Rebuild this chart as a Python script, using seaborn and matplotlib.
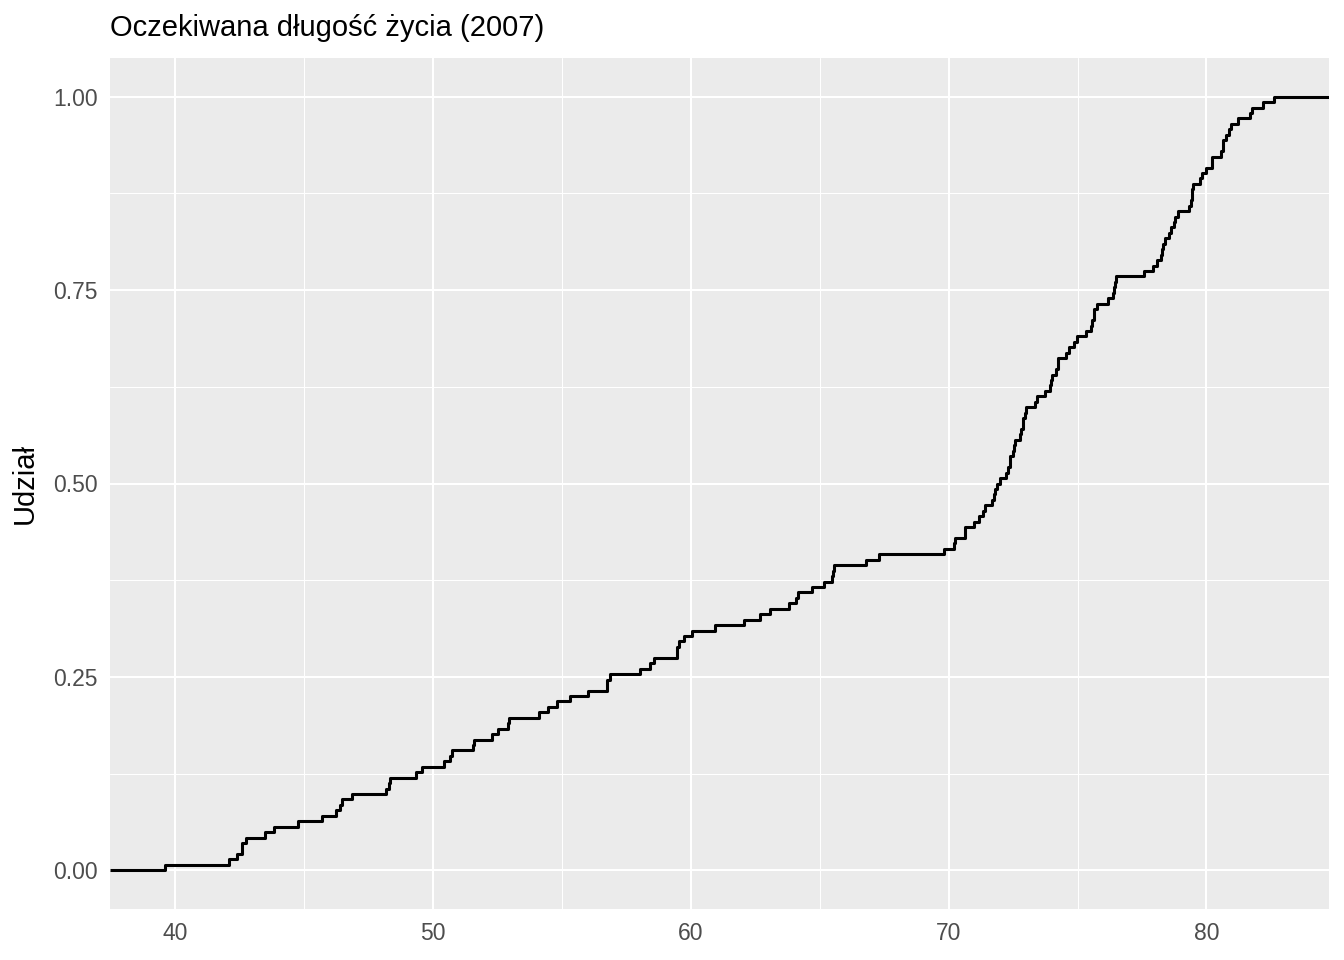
import matplotlib
matplotlib.use("Agg")
import matplotlib.pyplot as plt
import numpy as np
import seaborn as sns
from matplotlib.ticker import MultipleLocator

# gapminder, rok 2007: oczekiwana długość życia (142 kraje)
countries = [
    "Afghanistan", "Albania", "Algeria", "Angola", "Argentina", "Australia", "Austria", "Bahrain",
    "Bangladesh", "Belgium", "Benin", "Bolivia", "Bosnia and Herzegovina", "Botswana", "Brazil",
    "Bulgaria", "Burkina Faso", "Burundi", "Cambodia", "Cameroon", "Canada", "Central African Republic",
    "Chad", "Chile", "China", "Colombia", "Comoros", "Congo, Dem. Rep.", "Congo, Rep.", "Costa Rica",
    "Cote d'Ivoire", "Croatia", "Cuba", "Czech Republic", "Denmark", "Djibouti", "Dominican Republic",
    "Ecuador", "Egypt", "El Salvador", "Equatorial Guinea", "Eritrea", "Ethiopia", "Finland", "France",
    "Gabon", "Gambia", "Germany", "Ghana", "Greece", "Guatemala", "Guinea", "Guinea-Bissau", "Haiti",
    "Honduras", "Hong Kong", "Hungary", "Iceland", "India", "Indonesia", "Iran", "Iraq", "Ireland",
    "Israel", "Italy", "Jamaica", "Japan", "Jordan", "Kenya", "Korea, Dem. Rep.", "Korea, Rep.",
    "Kuwait", "Lebanon", "Lesotho", "Liberia", "Libya", "Madagascar", "Malawi", "Malaysia", "Mali",
    "Mauritania", "Mauritius", "Mexico", "Mongolia", "Montenegro", "Morocco", "Mozambique", "Myanmar",
    "Namibia", "Nepal", "Netherlands", "New Zealand", "Nicaragua", "Niger", "Nigeria", "Norway", "Oman",
    "Pakistan", "Panama", "Paraguay", "Peru", "Philippines", "Poland", "Portugal", "Puerto Rico",
    "Reunion", "Romania", "Rwanda", "Sao Tome and Principe", "Saudi Arabia", "Senegal", "Serbia",
    "Sierra Leone", "Singapore", "Slovak Republic", "Slovenia", "Somalia", "South Africa", "Spain",
    "Sri Lanka", "Sudan", "Swaziland", "Sweden", "Switzerland", "Syria", "Taiwan", "Tanzania",
    "Thailand", "Togo", "Trinidad and Tobago", "Tunisia", "Turkey", "Uganda", "United Kingdom",
    "United States", "Uruguay", "Venezuela", "Vietnam", "West Bank and Gaza", "Yemen, Rep.", "Zambia",
    "Zimbabwe",
]
life_exp = [
    43.828, 76.423, 72.301, 42.731, 75.320, 81.235, 79.829, 75.635,
    64.062, 79.441, 56.728, 65.554, 74.852, 50.728, 72.390,
    73.005, 52.295, 49.580, 59.723, 50.430, 80.653, 44.741,
    50.651, 78.553, 72.961, 72.889, 65.152, 46.462, 55.322, 78.782,
    48.328, 75.748, 78.273, 76.486, 78.332, 54.791, 72.235,
    74.994, 71.338, 71.878, 51.579, 58.040, 52.947, 79.313, 80.657,
    56.735, 59.448, 79.406, 60.022, 79.483, 70.259, 56.007, 46.388, 60.916,
    70.198, 82.208, 73.338, 81.757, 64.698, 70.650, 70.964, 59.545, 78.885,
    80.745, 80.546, 72.567, 82.603, 72.535, 54.110, 67.297, 78.623,
    77.588, 71.993, 42.592, 45.678, 73.952, 59.443, 48.303, 74.241, 54.467,
    64.164, 72.801, 76.195, 66.803, 74.543, 71.164, 42.082, 62.069,
    52.906, 63.785, 79.762, 80.204, 72.899, 56.867, 46.859, 80.196, 75.640,
    65.483, 75.537, 71.752, 71.421, 71.688, 75.563, 78.098, 78.746,
    76.442, 72.476, 46.242, 65.528, 72.777, 63.062, 74.002,
    42.568, 79.972, 74.663, 77.926, 48.159, 49.339, 80.941,
    72.396, 58.556, 39.613, 80.884, 81.701, 74.143, 78.400, 52.517,
    70.616, 58.420, 69.819, 73.923, 71.777, 51.542, 79.425,
    78.242, 76.384, 73.747, 74.249, 73.422, 62.698, 42.384,
    43.487,
]

x_ticks = [40, 50, 60, 70, 80]
y_ticks = [0.00, 0.25, 0.50, 0.75, 1.00]

sns.set_theme(style="darkgrid")
plt.rcParams["font.family"] = ["Liberation Sans", "DejaVu Sans"]

fig = plt.figure(figsize=(13.44, 9.6), dpi=100)
ax = fig.add_axes([110 / 1344, 1 - 909 / 960, 1219 / 1344, 851 / 960])
ax.set_facecolor("#EBEBEB")

sns.ecdfplot(x=life_exp, color="black", linewidth=2.2, ax=ax)

# zakres jak w ggplot (rozszerzenie o 5%)
lo, hi = min(life_exp), max(life_exp)
pad = (hi - lo) * 0.05
ax.set_xlim(lo - pad, hi + pad)
ax.set_ylim(-0.05, 1.05)

# stat_ecdf(pad = TRUE) - linia do krawędzi panelu
ax.plot([lo - pad, lo], [0, 0], color="black", linewidth=2.2, solid_capstyle="butt")
ax.plot([hi, hi + pad], [1, 1], color="black", linewidth=2.2, solid_capstyle="butt")

ax.set_xticks(x_ticks)
ax.set_yticks(y_ticks)
ax.set_yticklabels([f"{v:.2f}" for v in y_ticks])
ax.xaxis.set_minor_locator(MultipleLocator(5))
ax.yaxis.set_minor_locator(MultipleLocator(0.125))
ax.grid(which="major", color="white", linewidth=1.5)
ax.grid(which="minor", color="white", linewidth=0.75)
ax.set_axisbelow(True)
for s in ax.spines.values():
    s.set_visible(False)

ax.tick_params(which="major", length=5, width=1.5, color="#333333",
               labelsize=16.5, labelcolor="#4D4D4D", pad=4)
ax.tick_params(which="minor", length=0)

ax.set_xlabel("")
ax.set_ylabel("Udział", fontsize=21, color="black", labelpad=10)
ax.set_title("Oczekiwana długość życia (2007)", loc="left", fontsize=21, color="black", pad=16)

fig.savefig("out.png", dpi=100)
